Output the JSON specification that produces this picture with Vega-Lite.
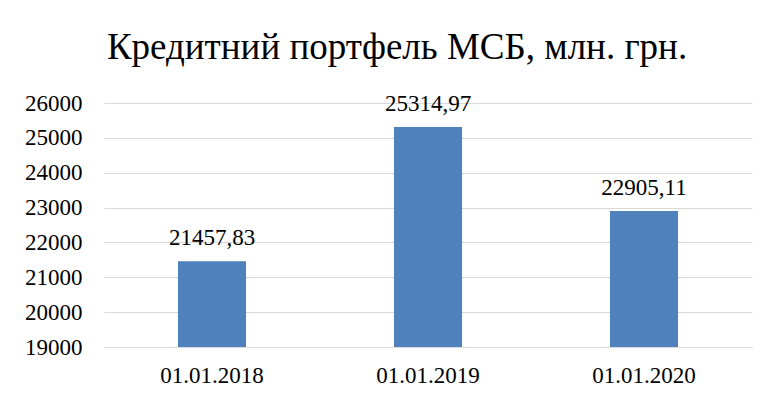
{
  "$schema": "https://vega.github.io/schema/vega-lite/v6.json",
  "width": 648,
  "height": 244,
  "autosize": {"type": "none"},
  "padding": {"left": 104, "top": 103, "right": 22, "bottom": 54},
  "background": "white",
  "title": {
    "text": "Кредитний портфель МСБ, млн. грн.",
    "font": "Times New Roman",
    "fontSize": 37,
    "fontWeight": "normal",
    "color": "#000000",
    "anchor": "middle",
    "baseline": "bottom",
    "dx": -31,
    "dy": 33,
    "offset": 21
  },
  "data": {
    "values": [
      {"date": "01.01.2018", "value": 21457.83, "label": "21457,83"},
      {"date": "01.01.2019", "value": 25314.97, "label": "25314,97"},
      {"date": "01.01.2020", "value": 22905.11, "label": "22905,11"}
    ]
  },
  "config": {
    "view": {"stroke": null},
    "axis": {
      "labelFont": "Times New Roman",
      "labelFontSize": 23,
      "labelColor": "#000000",
      "gridColor": "#d9d9d9",
      "domainColor": "#d9d9d9",
      "ticks": false,
      "title": null
    }
  },
  "encoding": {
    "x": {
      "field": "date",
      "type": "nominal",
      "scale": {"paddingInner": 0.685, "paddingOuter": 0.3425},
      "axis": {"labelAngle": 0, "labelPadding": 17, "domain": true, "grid": false}
    },
    "y": {
      "field": "value",
      "type": "quantitative",
      "scale": {"domain": [19000, 26000], "nice": false, "zero": false},
      "axis": {"values": [19000, 20000, 21000, 22000, 23000, 24000, 25000, 26000], "format": "d", "labelPadding": 22, "domain": false, "grid": true}
    }
  },
  "layer": [
    {"mark": {"type": "bar", "color": "#4F81BD", "clip": true}},
    {
      "mark": {"type": "text", "font": "Times New Roman", "fontSize": 23, "color": "#000000", "baseline": "alphabetic", "dy": -16},
      "encoding": {"text": {"field": "label"}}
    }
  ]
}
